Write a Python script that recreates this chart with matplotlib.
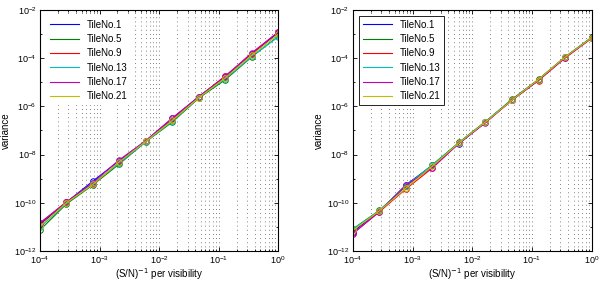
import numpy as np
import matplotlib
matplotlib.use("Agg")
import matplotlib.pyplot as plt
from matplotlib.ticker import LogLocator, NullFormatter

plt.rcParams['font.family'] = ['Liberation Sans', 'DejaVu Sans']

# (S/N)^-1 per visibility, 10 points from 1e-4 to 1
snr_inv = [1.0e-4, 2.78e-4, 7.74e-4, 2.15e-3, 5.99e-3, 1.67e-2, 4.64e-2, 0.129, 0.359, 1.0]

labels = ["TileNo.1", "TileNo.5", "TileNo.9", "TileNo.13", "TileNo.17", "TileNo.21"]
colors = ["b", "g", "r", "c", "m", "y"]

# log10(variance)
left_log = [
    [-10.90, -9.98, -9.10, -8.25, -7.43, -6.50, -5.60, -4.78, -3.82, -2.95],
    [-11.13, -10.05, -9.26, -8.39, -7.47, -6.65, -5.66, -4.90, -3.95, -3.10],
    [-10.86, -9.96, -9.22, -8.33, -7.44, -6.55, -5.61, -4.74, -3.83, -2.91],
    [-11.02, -10.02, -9.20, -8.36, -7.46, -6.62, -5.63, -4.86, -3.93, -3.12],
    [-10.83, -9.97, -9.16, -8.22, -7.42, -6.48, -5.60, -4.76, -3.78, -2.92],
    [-10.98, -10.00, -9.24, -8.30, -7.45, -6.58, -5.64, -4.82, -3.88, -3.02],
]

# log10(variance)
right_log = [
    [-11.20, -10.36, -9.26, -8.45, -7.55, -6.66, -5.74, -4.92, -3.97, -3.16],
    [-11.09, -10.32, -9.32, -8.43, -7.50, -6.63, -5.71, -4.88, -3.95, -3.14],
    [-11.27, -10.38, -9.43, -8.56, -7.53, -6.67, -5.75, -4.93, -4.00, -3.18],
    [-11.10, -10.33, -9.30, -8.44, -7.51, -6.64, -5.72, -4.90, -3.96, -3.15],
    [-11.29, -10.37, -9.28, -8.55, -7.54, -6.68, -5.73, -4.91, -3.98, -3.17],
    [-11.15, -10.34, -9.40, -8.48, -7.52, -6.65, -5.74, -4.89, -3.96, -3.16],
]

fig = plt.figure(figsize=(6.0, 2.82), dpi=100)
ax1 = fig.add_axes([0.0667, 0.110, 0.397, 0.855])
ax2 = fig.add_axes([0.588, 0.110, 0.398, 0.855])

for ax, data in [(ax1, left_log), (ax2, right_log)]:
    for i in range(len(labels)):
        ax.plot(snr_inv, 10.0 ** np.array(data[i]), color=colors[i], lw=0.8,
                marker='o', ms=4, mfc='none', mew=0.7, label=labels[i])
    ax.set_xscale('log')
    ax.set_yscale('log')
    ax.set_xlim(1e-4, 1)
    ax.set_ylim(1e-12, 1e-2)
    ax.yaxis.set_major_locator(LogLocator(base=100.0, numticks=10))
    ax.yaxis.set_minor_locator(LogLocator(base=10.0, subs=[1.0], numticks=20))
    ax.yaxis.set_minor_formatter(NullFormatter())
    ax.xaxis.set_minor_locator(LogLocator(base=10.0, subs=np.arange(2, 10), numticks=20))
    ax.xaxis.set_minor_formatter(NullFormatter())
    ax.grid(True, which='both', axis='x', ls=(0, (1, 4)), lw=0.6, color='0.35')
    ax.tick_params(which='both', direction='in', top=True, right=True,
                   labelsize=6.5, width=0.6, pad=2.5)
    ax.tick_params(which='major', length=3)
    ax.tick_params(which='minor', length=1.5)
    for s in ax.spines.values():
        s.set_linewidth(0.8)
    ax.set_xlabel("(S/N)$^{-1}$ per visibility", fontsize=7, labelpad=0)
    ax.set_ylabel("variance", fontsize=7, labelpad=2)

leg1 = ax1.legend(loc='upper left', fontsize=7, frameon=True, fancybox=False,
                  handlelength=3, borderaxespad=0.6, labelspacing=0.45)
leg1.get_frame().set_edgecolor('none')
leg2 = ax2.legend(loc='upper left', fontsize=7, frameon=True, fancybox=False,
                  handlelength=3, borderaxespad=0.6, labelspacing=0.45)
leg2.get_frame().set_edgecolor('k')
leg2.get_frame().set_linewidth(0.6)
for leg in (leg1, leg2):
    leg.get_frame().set_alpha(1.0)
    for h in leg.legend_handles:
        h.set_marker('')

fig.savefig("out.png", dpi=100)
